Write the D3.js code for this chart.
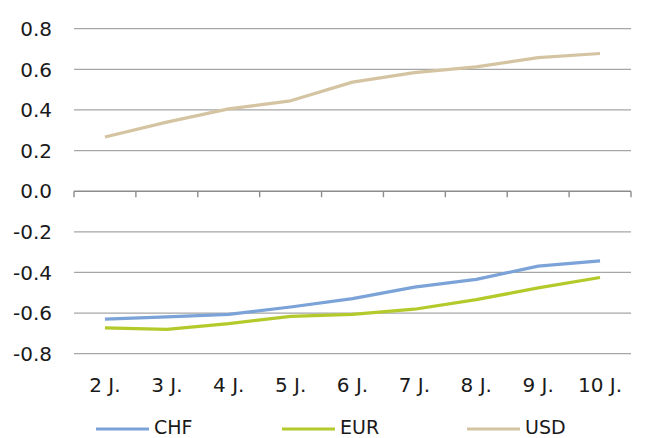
<!DOCTYPE html>
<html><head><meta charset="utf-8">
<script src="https://cdn.jsdelivr.net/npm/d3@7"></script>
<style>html,body{margin:0;padding:0;background:#fff;}svg{display:block;font-family:"DejaVu Sans",sans-serif;}</style>
</head><body>
<svg id="c" width="646" height="438"></svg>
<script>
const categories = ["2 J.","3 J.","4 J.","5 J.","6 J.","7 J.","8 J.","9 J.","10 J."];
const chf = [-0.63,-0.619,-0.606,-0.57,-0.529,-0.472,-0.434,-0.369,-0.343];
const eur = [-0.673,-0.68,-0.652,-0.616,-0.606,-0.581,-0.534,-0.476,-0.425];
const usd = [0.267,0.34,0.405,0.445,0.537,0.584,0.612,0.658,0.678];
const yTicks = [0.8,0.6,0.4,0.2,0.0,-0.2,-0.4,-0.6,-0.8];
const seriesNames = ["CHF","EUR","USD"];
const colors = ["#7ba3d8","#b4ca2b","#d4c4a2"];

const svg = d3.select("#c");
const x = d3.scaleBand().domain(categories).range([74,631]).padding(0);
const y = d3.scaleLinear().domain([-0.8,0.8]).range([353.7,28.7]);
const fs = 20;

// gridlines
svg.append("g").selectAll("line").data(yTicks.filter(d=>d!==0)).join("line")
  .attr("x1",74).attr("x2",631).attr("y1",d=>y(d)).attr("y2",d=>y(d))
  .attr("stroke","#a6a6a6").attr("stroke-width",1.3);

// y labels
svg.append("g").selectAll("text").data(yTicks).join("text")
  .attr("x",52).attr("y",d=>y(d)).attr("dy","0.36em").attr("text-anchor","end")
  .attr("font-size",fs).attr("fill","#1a1a1a").text(d=>d3.format(".1f")(d).replace("−","-"));

// category axis at zero
const ax = svg.append("g").attr("transform",`translate(0,${y(0)})`);
ax.append("line").attr("x1",74).attr("x2",631).attr("stroke","#8c8c8c").attr("stroke-width",1.4);
const bounds = categories.map(c=>x(c)).concat([x.range()[1]]);
ax.selectAll("line.t").data(bounds).join("line").attr("class","t")
  .attr("x1",d=>d).attr("x2",d=>d).attr("y1",0).attr("y2",6)
  .attr("stroke","#8c8c8c").attr("stroke-width",1.4);

// category labels
svg.append("g").selectAll("text").data(categories).join("text")
  .attr("x",d=>x(d)+x.bandwidth()/2).attr("y",391.5).attr("text-anchor","middle")
  .attr("font-size",fs).attr("fill","#1a1a1a").text(d=>d);

// lines
const line = d3.line().x((d,i)=>x(categories[i])+x.bandwidth()/2).y(d=>y(d));
[chf,eur,usd].forEach((s,i)=>{
  svg.append("path").datum(s).attr("d",line).attr("fill","none")
    .attr("stroke",colors[i]).attr("stroke-width",3.2).attr("stroke-linejoin","round");
});

// legend
const legX = [96,282,467];
seriesNames.forEach((n,i)=>{
  svg.append("line").attr("x1",legX[i]).attr("x2",legX[i]+53).attr("y1",429).attr("y2",429)
    .attr("stroke",colors[i]).attr("stroke-width",3.2);
  svg.append("text").attr("x",legX[i]+58).attr("y",433.5).attr("font-size",19)
    .attr("fill","#1a1a1a").text(n);
});
</script>
</body></html>
